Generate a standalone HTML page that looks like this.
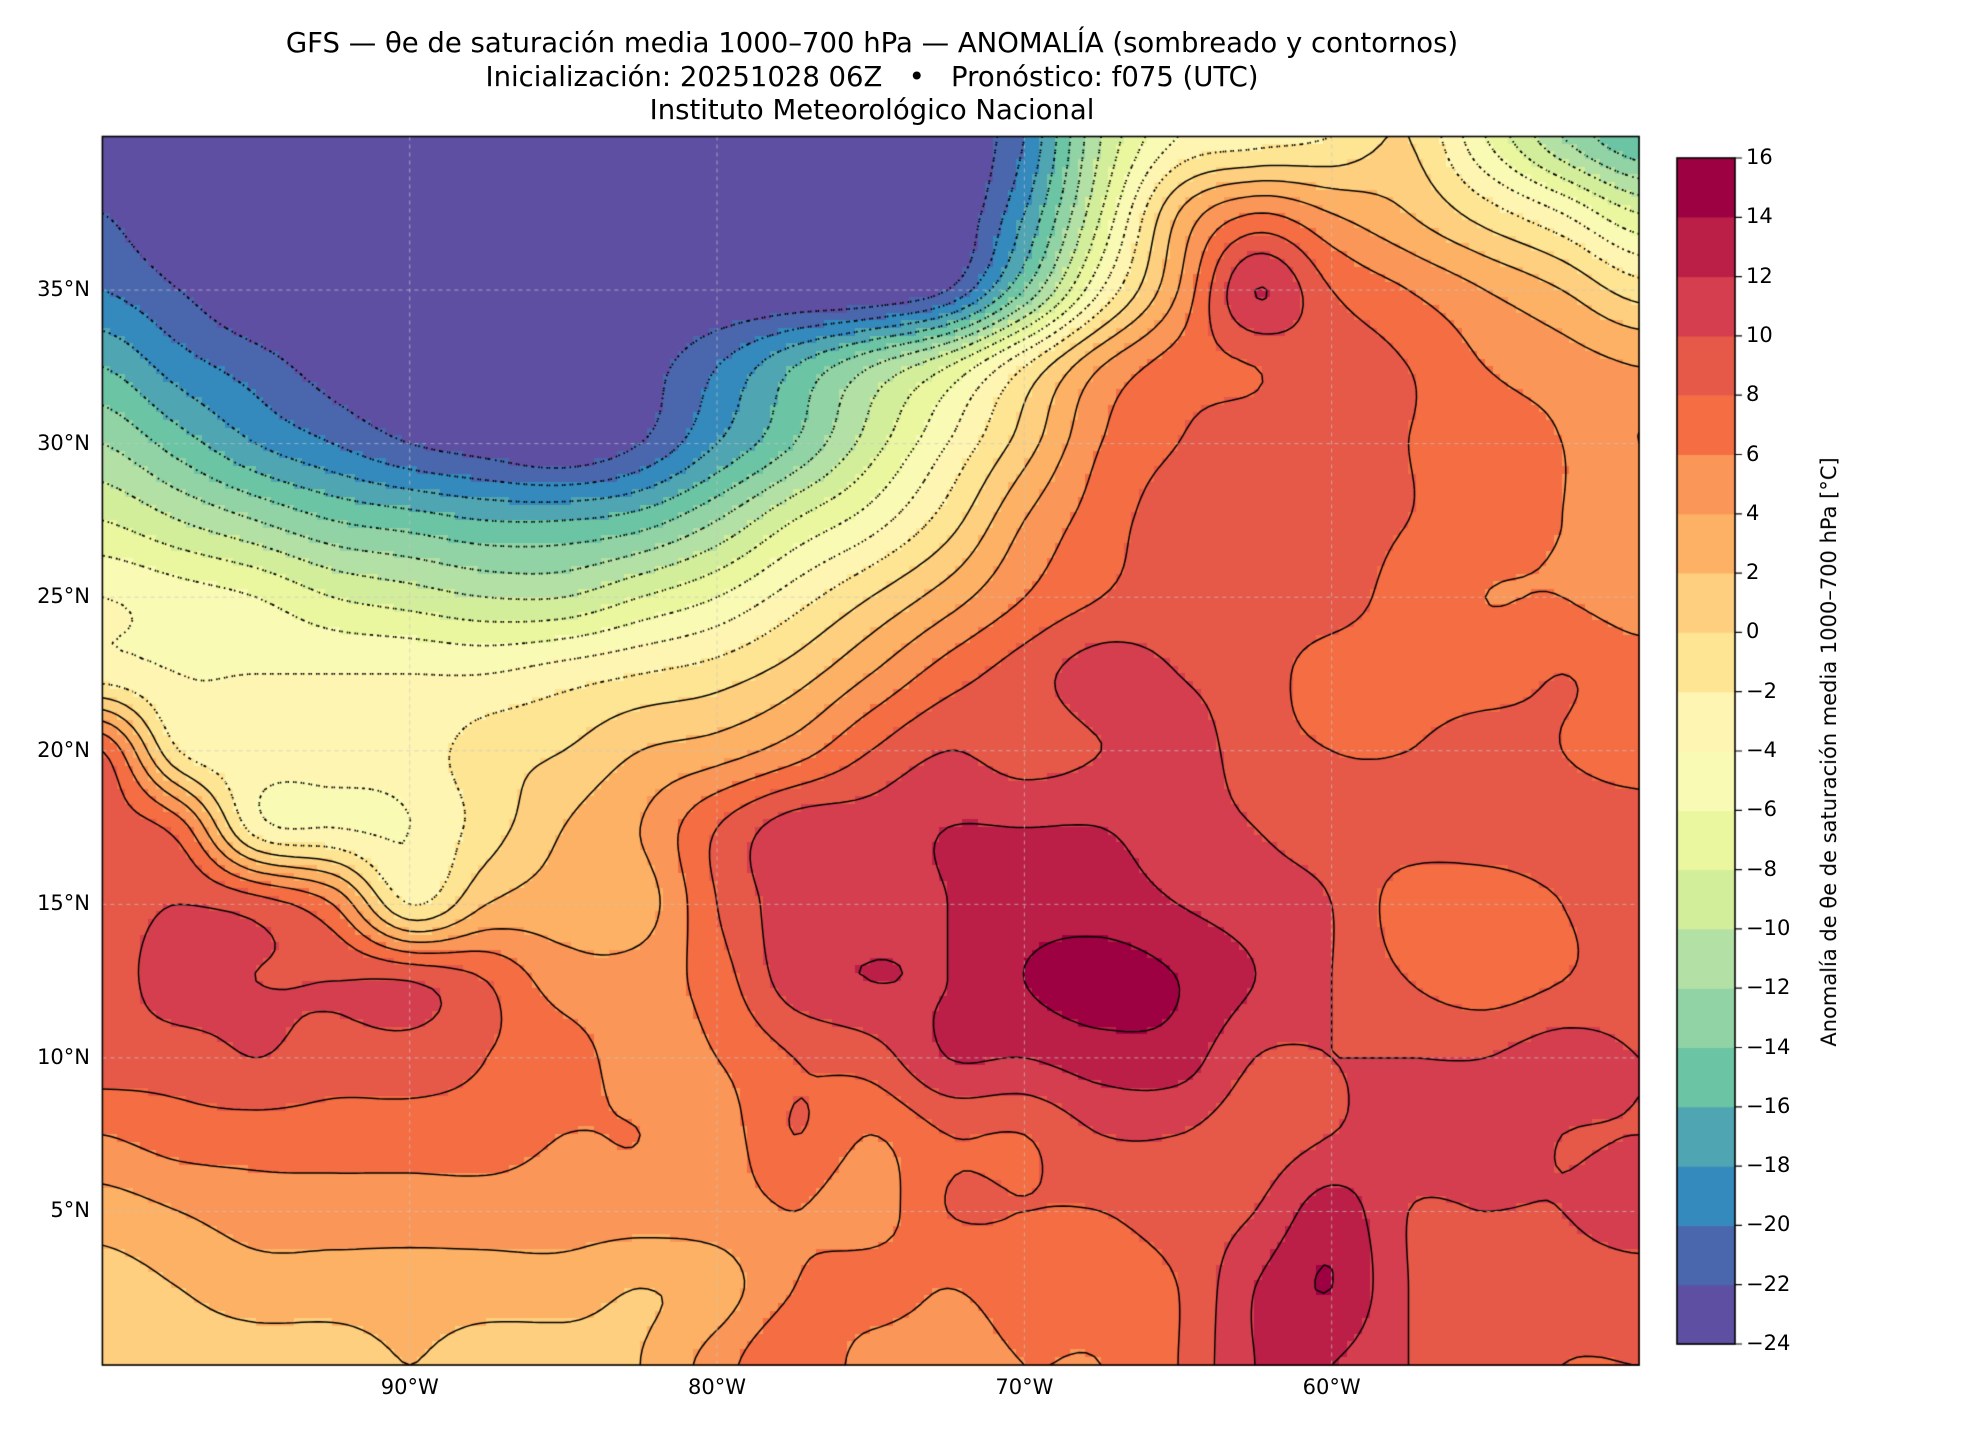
<!DOCTYPE html>
<html><head><meta charset="utf-8"><style>
body{margin:0;background:#fff;width:1980px;height:1440px;overflow:hidden;font-family:"DejaVu Sans","Liberation Sans",sans-serif}
#root{position:relative;width:1980px;height:1440px}
.t{position:absolute;white-space:nowrap;color:#000}
</style></head><body><div id="root">
<div class="t" style="left:0;width:1744px;top:27px;text-align:center;font-size:27.5px;line-height:33.5px">GFS — θe de saturación media 1000–700 hPa — ANOMALÍA (sombreado y contornos)<br>Inicialización: 20251028 06Z &nbsp; • &nbsp; Pronóstico: f075 (UTC)<br>Instituto Meteorológico Nacional</div>
<canvas id="map" width="1980" height="1440" style="position:absolute;left:0;top:0"></canvas>
<div class="t" style="left:1829px;top:752px;font-size:21px;transform:translate(-50%,-50%) rotate(-90deg)">Anomalía de θe de saturación media 1000–700 hPa [°C]</div>
<div id="labels"></div>
</div>
<script>
const lons=[-100,-97.5,-95,-92.5,-90,-87.5,-85,-82.5,-80,-77.5,-75,-72.5,-70,-67.5,-65,-62.5,-60,-57.5,-55,-52.5,-50];
const lats=[40,37.5,35,32.5,30,27.5,25,22.5,20,17.5,15,12.5,10,7.5,5,2.5,0];
const field=[
[-24,-24,-24,-24,-24,-24,-24,-24,-24,-24,-24,-24,-20,-10,-4,-3,-2,0,-6,-12,-16],
[-22,-24,-24,-24,-24,-24,-24,-24,-24,-24,-24,-24,-18,-8,2,6,4,2,-1,-4,-8],
[-20,-22,-24,-24,-24,-24,-24,-24,-24,-24,-24,-22,-14,-4,4,12,8,6,4,2,-1],
[-16,-19,-21,-23,-24,-24,-24,-23,-20,-16,-12,-8,-2,4,7,8,9,8,6,5,4],
[-12,-15,-18,-20,-22,-23,-24,-22,-18,-14,-9,-4,1,6,8,9,9,8,7,6,4],
[-8,-10,-12,-14,-15,-16,-16,-15,-12,-8,-5,-1,4,7,9,9,9,8,7,6,5],
[-4,-5,-6,-8,-9,-10,-10,-8,-6,-3,0,3,6,8,9,9,9,7,6,6,5],
[-3,-4,-4,-4,-4,-4,-3,-2,-1,1,4,7,9,11,10,9,7,7,7,8,7],
[8,-2,-3,-3,-3,-1,0,2,3,5,8,10,9,10,11,9,8,8,9,8,7],
[9,7,-3,-4,-4,-1,2,4,8,11,11,12,12,12,11,10,9,9,9,9,9],
[9,10,9,6,-2,2,3,3,8,11,11,12,13,13,12,11,10,7,7,8,9],
[9,11,10,10,10,8,5,5,7,11,12,12,14,15,14,12,10,8,7,8,9],
[9,9,10,9,9,8,7,5,6,8,9,12,12,13,13,10,10,10,10,11,10],
[6,7,7,7,7,7,6,6,5,8,6,8,8,10,10,9,10,11,11,10,10],
[3,4,5,5,5,5,5,5,5,6,5,8,8,8,9,10,13,10,10,10,11],
[1,2,3,3,3,3,3,2,3,6,7,6,7,7,8,12,14,10,9,9,9],
[0,1,1,1,2,1,1,2,5,8,5,5,6,6,8,12,12,10,9,8,8]];
const levels=[-24,-22,-20,-18,-16,-14,-12,-10,-8,-6,-4,-2,0,2,4,6,8,10,12,14,16];
const colors=['#5e4fa2','#4a67ae','#3489bd','#4fa5b2','#6bc4a4','#91d3a4','#b3e0a4','#d3ee9b','#eaf79f','#f9fbb4','#fff5b2','#fee593','#fecf7e','#fdb164','#fa9657','#f46d43','#e65848','#d53e4f','#bb1f48','#9e0142'];
const latTicks=[35,30,25,20,15,10,5];
const lonTicks=[-90,-80,-70,-60];
const L=102.4,R=1639,T=136.5,B=1365;
const X=lon=>L+(lon+100)/50*(R-L);
const Y=lat=>T+(40-lat)/40*(B-T);
function g(j,i){j=Math.max(0,Math.min(lats.length-1,j));i=Math.max(0,Math.min(lons.length-1,i));return field[j][i];}
function cr(p0,p1,p2,p3,t){return 0.5*((2*p1)+(-p0+p2)*t+(2*p0-5*p1+4*p2-p3)*t*t+(-p0+3*p1-3*p2+p3)*t*t*t);}
function val(lon,lat){
  let fi=(lon+100)/2.5, fj=(40-lat)/2.5;
  let i=Math.min(Math.floor(fi),lons.length-2), j=Math.min(Math.floor(fj),lats.length-2);
  let a=fi-i,b=fj-j;
  const rows=[];
  for(let m=-1;m<=2;m++)rows.push(cr(g(j+m,i-1),g(j+m,i),g(j+m,i+1),g(j+m,i+2),a));
  return cr(rows[0],rows[1],rows[2],rows[3],b);
}
function col(v){let k=Math.floor((v+24)/2);k=Math.max(0,Math.min(19,k));return colors[k];}
const c=document.getElementById('map').getContext('2d');
const d=0.25;
for(let lon=-100;lon<-50;lon+=d)for(let lat=40;lat>0;lat-=d){
  c.fillStyle=col(val(lon+d/2,lat-d/2));
  c.fillRect(Math.floor(X(lon)),Math.floor(Y(lat)),Math.ceil(X(lon+d)-X(lon))+1,Math.ceil(Y(lat-d)-Y(lat))+1);
}
const cd=0.25;
c.save();c.beginPath();c.rect(L,T,R-L,B-T);c.clip();
c.strokeStyle='#000';
for(const lv of levels){
  if(lv<=-24||lv>=16)continue;
  c.lineWidth=lv<0?1.8:1.5;
  c.setLineDash(lv<0?[1.5,4]:[]);
  c.beginPath();
  for(let lon=-100;lon<-50;lon+=cd)for(let lat=40;lat>0;lat-=cd){
    const p=[[lon,lat],[lon+cd,lat],[lon+cd,lat-cd],[lon,lat-cd]];
    const v=p.map(q=>val(q[0],q[1]));
    const pts=[];
    for(let e=0;e<4;e++){const a=v[e],b=v[(e+1)%4];
      if((a<lv)!==(b<lv)){const t=(lv-a)/(b-a);const P=p[e],Q=p[(e+1)%4];
        pts.push([X(P[0]+(Q[0]-P[0])*t),Y(P[1]+(Q[1]-P[1])*t)]);}}
    for(let k=0;k+1<pts.length;k+=2){c.moveTo(pts[k][0],pts[k][1]);c.lineTo(pts[k+1][0],pts[k+1][1]);}
  }
  c.stroke();
}
c.setLineDash([4,4]);c.strokeStyle='rgba(200,200,200,0.7)';c.lineWidth=1;
c.beginPath();
latTicks.forEach(l=>{c.moveTo(L,Y(l));c.lineTo(R,Y(l));});
lonTicks.forEach(l=>{c.moveTo(X(l),T);c.lineTo(X(l),B);});
c.stroke();c.restore();c.setLineDash([]);
c.strokeStyle='#000';c.lineWidth=1.6;c.strokeRect(L,T,R-L,B-T);
const CL=1677,CR=1735,CT=158,CB=1344;
const cy=v=>CB-(v+24)/40*(CB-CT);
for(let k=0;k<20;k++){c.fillStyle=colors[k];c.fillRect(CL,cy(levels[k+1]),CR-CL,cy(levels[k])-cy(levels[k+1])+0.5);}
c.lineWidth=1.6;c.strokeRect(CL,CT,CR-CL,CB-CT);
c.lineWidth=1.2;c.beginPath();levels.forEach(v=>{c.moveTo(CR,cy(v));c.lineTo(CR+7,cy(v));});c.stroke();
const lab=document.getElementById('labels');
function add(txt,x,y,al,name){const e=document.createElement('div');e.className='t';e.textContent=txt;e.style.fontSize='21px';e.style.top=(y-13)+'px';
 if(al==='r'){e.style.right=(1980-x)+'px';}else if(al==='c'){e.style.left=(x-50)+'px';e.style.width='100px';e.style.textAlign='center';}else e.style.left=x+'px';
 
 
 lab.appendChild(e);}
latTicks.forEach(l=>add(l+'°N',90,Y(l),'r','y-tick-label'));
lonTicks.forEach(l=>add((-l)+'°W',X(l),1388,'c','x-tick-label'));
levels.forEach(v=>add(v<0?'−'+(-v):String(v),1746,cy(v),'l','colorbar-tick-label'));
</script></body></html>
